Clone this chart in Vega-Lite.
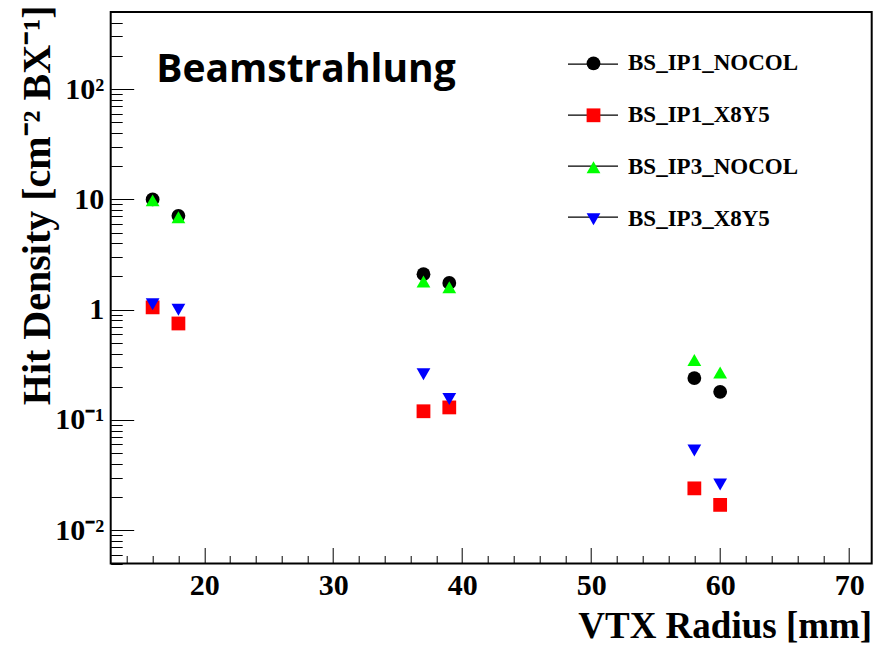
{
  "$schema": "https://vega.github.io/schema/vega-lite/v6.json",
  "width": 761,
  "height": 551.5,
  "autosize": {"type": "none"},
  "padding": {"left": 110.7, "top": 12, "right": 6.3, "bottom": 82.5},
  "background": "white",
  "title": {
    "text": "Beamstrahlung",
    "orient": "none",
    "anchor": "start",
    "frame": "group",
    "font": "Open Sans",
    "fontWeight": "bold",
    "fontSize": 39,
    "color": "black",
    "baseline": "alphabetic",
    "align": "left",
    "offset": 0,
    "dx": 45.5,
    "dy": 69.7
  },
  "config": {
    "view": {"stroke": "black", "strokeWidth": 2},
    "font": "Liberation Serif"
  },
  "datasets": {
    "hits": [
      {"radius": 16, "density": 10.0, "series": "BS_IP1_NOCOL"},
      {"radius": 18, "density": 7.1, "series": "BS_IP1_NOCOL"},
      {"radius": 37, "density": 2.1, "series": "BS_IP1_NOCOL"},
      {"radius": 39, "density": 1.75, "series": "BS_IP1_NOCOL"},
      {"radius": 58, "density": 0.24, "series": "BS_IP1_NOCOL"},
      {"radius": 60, "density": 0.18, "series": "BS_IP1_NOCOL"},
      {"radius": 16, "density": 1.05, "series": "BS_IP1_X8Y5"},
      {"radius": 18, "density": 0.75, "series": "BS_IP1_X8Y5"},
      {"radius": 37, "density": 0.12, "series": "BS_IP1_X8Y5"},
      {"radius": 39, "density": 0.13, "series": "BS_IP1_X8Y5"},
      {"radius": 58, "density": 0.024, "series": "BS_IP1_X8Y5"},
      {"radius": 60, "density": 0.017, "series": "BS_IP1_X8Y5"},
      {"radius": 16, "density": 9.8, "series": "BS_IP3_NOCOL"},
      {"radius": 18, "density": 6.9, "series": "BS_IP3_NOCOL"},
      {"radius": 37, "density": 1.8, "series": "BS_IP3_NOCOL"},
      {"radius": 39, "density": 1.6, "series": "BS_IP3_NOCOL"},
      {"radius": 58, "density": 0.35, "series": "BS_IP3_NOCOL"},
      {"radius": 60, "density": 0.27, "series": "BS_IP3_NOCOL"},
      {"radius": 16, "density": 1.12, "series": "BS_IP3_X8Y5"},
      {"radius": 18, "density": 1.0, "series": "BS_IP3_X8Y5"},
      {"radius": 37, "density": 0.26, "series": "BS_IP3_X8Y5"},
      {"radius": 39, "density": 0.155, "series": "BS_IP3_X8Y5"},
      {"radius": 58, "density": 0.053, "series": "BS_IP3_X8Y5"},
      {"radius": 60, "density": 0.026, "series": "BS_IP3_X8Y5"}
    ]
  },
  "data": {"name": "hits"},
  "encoding": {
    "x": {
      "field": "radius",
      "type": "quantitative",
      "scale": {"domain": [12.75, 71.75], "nice": false, "zero": false},
      "axis": {
        "values": [14, 16, 18, 20, 22, 24, 26, 28, 30, 32, 34, 36, 38, 40, 42, 44, 46, 48, 50, 52, 54, 56, 58, 60, 62, 64, 66, 68, 70],
        "labelExpr": "datum.value % 10 == 0 ? datum.label : ''",
        "tickSize": {"condition": {"test": "datum.value % 10 == 0", "value": -16}, "value": -8},
        "tickColor": "black",
        "tickWidth": 1,
        "domain": false,
        "grid": false,
        "labelFont": "Liberation Serif",
        "labelFontWeight": "bold",
        "labelFontSize": 30,
        "labelColor": "black",
        "labelPadding": 23,
        "labelOverlap": false,
        "labelFlush": false,
        "title": "VTX Radius [mm]",
        "titleFont": "Liberation Serif",
        "titleFontSize": 37,
        "titleFontWeight": "bold",
        "titleColor": "black",
        "titleAnchor": "end",
        "titleAlign": "right",
        "titleBaseline": "alphabetic",
        "titleX": 761,
        "titleY": 73.5
      }
    },
    "y": {
      "field": "density",
      "type": "quantitative",
      "scale": {"type": "log", "domain": [0.005, 500], "nice": false},
      "axis": {
        "values": [0.005, 0.006, 0.007, 0.008, 0.009, 0.01, 0.02, 0.03, 0.04, 0.05, 0.06, 0.07, 0.08, 0.09, 0.1, 0.2, 0.3, 0.4, 0.5, 0.6, 0.7, 0.8, 0.9, 1, 2, 3, 4, 5, 6, 7, 8, 9, 10, 20, 30, 40, 50, 60, 70, 80, 90, 100, 200, 300, 400, 500],
        "labelExpr": "abs(log(datum.value)/LN10 - round(log(datum.value)/LN10)) < 0.001 ? (round(log(datum.value)/LN10) == 2 ? '10²' : round(log(datum.value)/LN10) == 1 ? '10' : round(log(datum.value)/LN10) == 0 ? '1' : round(log(datum.value)/LN10) == -1 ? '10⁻¹' : '10⁻²') : ''",
        "tickSize": {"condition": {"test": "abs(log(datum.value)/LN10 - round(log(datum.value)/LN10)) < 0.001", "value": -23}, "value": -11.5},
        "tickColor": "black",
        "tickWidth": 1,
        "domain": false,
        "grid": false,
        "labelFont": "Liberation Serif",
        "labelFontWeight": "bold",
        "labelFontSize": 30,
        "labelColor": "black",
        "labelPadding": 30,
        "labelOverlap": false,
        "labelFlush": false,
        "title": "Hit Density [cm⁻² BX⁻¹]",
        "titleFont": "Liberation Serif",
        "titleFontSize": 40,
        "titleFontWeight": "bold",
        "titleColor": "black",
        "titleAnchor": "end",
        "titleAngle": -90,
        "titleAlign": "right",
        "titleBaseline": "middle",
        "titleX": -73.7,
        "titleY": -7
      }
    }
  },
  "layer": [
    {
      "mark": {"type": "rule", "opacity": 0},
      "encoding": {
        "x": null,
        "color": {
          "field": "series",
          "type": "nominal",
          "scale": {
            "domain": ["BS_IP1_NOCOL", "BS_IP1_X8Y5", "BS_IP3_NOCOL", "BS_IP3_X8Y5"],
            "range": ["black", "black", "black", "black"]
          },
          "legend": {
            "title": null,
            "orient": "none",
            "legendX": 456.3,
            "legendY": 26.1,
            "padding": 0,
            "symbolType": "stroke",
            "symbolSize": 2500,
            "symbolStrokeWidth": 1.2,
            "symbolStrokeColor": "black",
            "symbolOpacity": 1,
            "rowPadding": 13,
            "labelExpr": "''",
            "labelFont": "Liberation Serif",
            "labelFontWeight": "bold",
            "labelFontSize": 23,
            "labelLimit": 400
          }
        }
      }
    },
    {
      "mark": {"type": "point", "filled": true, "opacity": 1, "size": 190, "strokeWidth": 0},
      "encoding": {
        "fill": {
          "field": "series",
          "type": "nominal",
          "scale": {"range": ["black", "#ff0000", "#00ff00", "#0000ff"]},
          "legend": {
            "title": null,
            "orient": "none",
            "legendX": 471.3,
            "legendY": 39.8,
            "padding": 0,
            "symbolSize": 190,
            "symbolStrokeWidth": 0,
            "symbolOpacity": 1,
            "rowPadding": 28,
            "labelOffset": 23,
            "labelFont": "Liberation Serif",
            "labelFontWeight": "bold",
            "labelFontSize": 23,
            "labelColor": "black",
            "labelLimit": 400
          }
        },
        "shape": {
          "field": "series",
          "type": "nominal",
          "scale": {"range": ["circle", "square", "triangle-up", "triangle-down"]},
          "legend": {
            "title": null,
            "orient": "none",
            "legendX": 471.3,
            "legendY": 39.8,
            "padding": 0,
            "symbolSize": 190,
            "symbolStrokeWidth": 0,
            "symbolOpacity": 1,
            "rowPadding": 28,
            "labelOffset": 23,
            "labelFont": "Liberation Serif",
            "labelFontWeight": "bold",
            "labelFontSize": 23,
            "labelColor": "black",
            "labelLimit": 400
          }
        }
      }
    }
  ]
}
